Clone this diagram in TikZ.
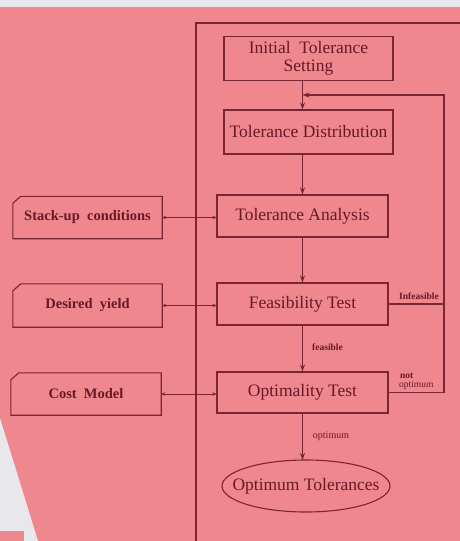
\documentclass[tikz,border=0pt]{standalone}
\usepackage{fontspec}
\setmainfont{Liberation Serif}
\usetikzlibrary{shapes.geometric,arrows.meta}
\definecolor{pinkbg}{RGB}{238,136,142}
\definecolor{inkline}{RGB}{122,36,52}
\definecolor{inktext}{RGB}{105,24,40}
\definecolor{paper}{RGB}{232,232,236}
\tikzset{
  mainbox/.style={draw=inkline, line width=1.1pt, minimum width=171pt, minimum height=42pt,
    inner sep=1pt, text=inktext, font=\fontsize{17.5}{18}\selectfont, align=center},
  sidebox/.style={minimum width=149pt, minimum height=42pt, inner sep=0pt, text=inktext,
    font=\bfseries\fontsize{14.5}{15}\selectfont},
  flow/.style={draw=inkline, line width=1.1pt, -{Stealth[length=7pt,width=5pt]}},
  link/.style={draw=inkline, line width=1pt, {Stealth[length=4pt,width=3.5pt]}-{Stealth[length=4pt,width=3.5pt]}},
  plain/.style={draw=inkline, line width=1.1pt},
  small/.style={text=inktext, font=\bfseries\fontsize{9.5}{10}\selectfont, inner sep=0pt},
}
\begin{document}
\begin{tikzpicture}[x=1pt,y=-1pt]
\useasboundingbox (0,0) rectangle (460,541);
% background
\fill[pinkbg] (0,0) rectangle (460,541);
\fill[paper] (0,0) rectangle (460,7);
\fill[paper] (0,418) -- (38,541) -- (0,541) -- cycle;
\fill[pinkbg] (0,531) rectangle (24,541);
% outer frame
\draw[plain] (196,541) -- (196,23) -- (460,23);
% main nodes
\node[mainbox, minimum width=169pt, minimum height=44pt] (init) at (308.5,58.5) {Initial\ \ Tolerance\\Setting};
\node[mainbox, minimum width=169pt, minimum height=44pt] (dist) at (308.5,132) {Tolerance Distribution};
\node[mainbox] (anal) at (302.5,216) {Tolerance Analysis};
\node[mainbox] (feas) at (302.5,304) {Feasibility Test};
\node[mainbox, minimum height=41pt] (opt) at (302.5,392.5) {Optimality Test};
\node[ellipse, minimum width=168pt, minimum height=52pt, inner sep=0pt, outer sep=0pt,
  text=inktext, font=\fontsize{17.5}{18}\selectfont] (res) at (306,486) {};
\node[text=inktext, font=\fontsize{17.5}{18}\selectfont, inner sep=0pt] (restext) at (res.center) {Optimum Tolerances};
\draw[plain] (res.center) ellipse [x radius=84, y radius=26];
% side nodes
\node[sidebox] (stack) at (87.5,217.5) {Stack-up\ \ conditions};
\node[sidebox, minimum height=43pt] (yield) at (87.5,305.5) {Desired\ \ yield};
\node[sidebox, minimum width=150pt] (cost) at (86,394) {Cost\ \ Model};
\foreach \n in {stack,yield,cost}{
  \draw[plain] (\n.south west) -- (\n.south east) -- (\n.north east)
    -- ([xshift=8pt]\n.north west) -- ([yshift=-7pt]\n.north west) -- cycle;
}
% main flow
\draw[flow] (init.south -| anal.center) -- (dist.north -| anal.center);
\draw[flow] (dist.south -| anal.center) -- (anal.north);
\draw[flow] (anal.south) -- (feas.north);
\draw[flow] (feas.south) -- (opt.north);
\draw[flow] (opt.south) -- (opt.south |- res.north);
% feedback
\coordinate (fbR) at (444,95);
\coordinate (fbL) at (302.5,95);
\draw[flow] (opt.east) -- (opt.east -| fbR) -- (fbR) -- (fbL);
\draw[plain] (feas.east) -- (feas.east -| fbR);
% side links
\draw[link] (stack.east) -- (stack.east -| anal.west);
\draw[link] (yield.east) -- (yield.east -| feas.west);
\draw[link] (cost.east) -- (cost.east -| opt.west);
% labels
\node[small] (l1) at (419,296) {Infeasible};
\node[small] (l2) at (327.5,347) {feasible};
\node[small, anchor=west] (l3) at (400,376) {not};
\node[small, anchor=west, font=\fontsize{9.5}{10}\selectfont] (l4) at (399,385.5) {optimum};
\node[small, font=\fontsize{10}{10}\selectfont] (l5) at (331,436) {optimum};
\end{tikzpicture}
\end{document}
